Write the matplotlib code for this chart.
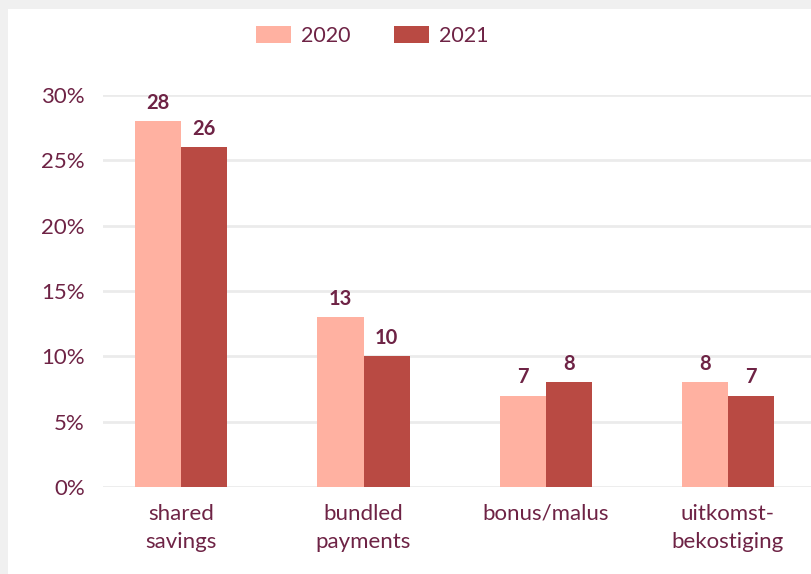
import matplotlib.pyplot as plt
import numpy as np
from matplotlib.patches import Rectangle
from matplotlib.ticker import FuncFormatter

categories = ['shared\nsavings', 'bundled\npayments', 'bonus/malus', 'uitkomst-\nbekostiging']
years = ['2020', '2021']
values_2020 = [28, 13, 7, 8]
values_2021 = [26, 10, 8, 7]

col_2020 = '#FFB1A1'
col_2021 = '#B94A43'
text_col = '#6E2345'

plt.rcParams['font.family'] = ['Lato', 'DejaVu Sans']

fig = plt.figure(figsize=(8.11, 5.74), dpi=100)
fig.patch.set_facecolor('#F0F0F0')
fig.add_artist(Rectangle((8 / 811, 0), 1, 1 - 9 / 574, transform=fig.transFigure,
                         facecolor='white', edgecolor='none', zorder=0))

ax = fig.add_axes([103 / 811, 87 / 574, 1 - 103 / 811, (487 - 95) / 574])
ax.set_facecolor('none')

x = np.arange(len(categories))
w = 0.253
b1 = ax.bar(x - w / 2, values_2020, w, color=col_2020, label=years[0], zorder=2)
b2 = ax.bar(x + w / 2, values_2021, w, color=col_2021, label=years[1], zorder=2)

for bars in (b1, b2):
    for r in bars:
        ax.annotate(f'{r.get_height():.0f}', (r.get_x() + r.get_width() / 2, r.get_height()),
                    xytext=(0, 6), textcoords='offset points', ha='center', va='bottom',
                    fontsize=14.5, fontweight='bold', color=text_col, clip_on=False)

ax.set_ylim(0, 30)
ax.set_xlim(-0.43, 3.456)
ax.set_yticks(np.arange(0, 31, 5))
ax.yaxis.set_major_formatter(FuncFormatter(lambda v, p: f'{v:.0f}%'))
ax.set_xticks(x)
ax.set_xticklabels(categories, linespacing=1.55)
ax.tick_params(axis='both', length=0, labelsize=16, labelcolor=text_col)
ax.tick_params(axis='y', pad=13)
ax.tick_params(axis='x', pad=12)
ax.grid(axis='y', color='#EBEBEB', linewidth=2, zorder=0)
ax.set_axisbelow(True)
for s in ax.spines.values():
    s.set_visible(False)

leg = fig.legend(handles=[b1, b2], labels=years, loc='center', bbox_to_anchor=(372 / 811, 1 - 36 / 574),
                 ncol=2, frameon=False, fontsize=15.5, handlelength=1.65, handleheight=0.8,
                 columnspacing=2.0, handletextpad=0.45)
for t in leg.get_texts():
    t.set_color(text_col)

fig.savefig('out.png', dpi=100)
